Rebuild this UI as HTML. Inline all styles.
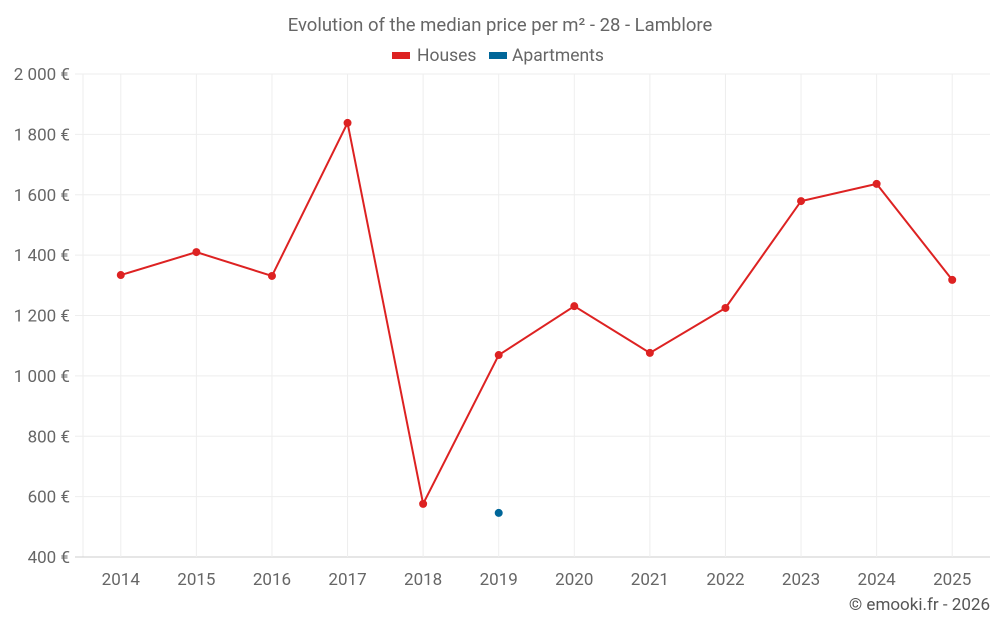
<!DOCTYPE html>
<html><head><meta charset="utf-8">
<style>
html,body{margin:0;padding:0;background:#fff;}
svg{display:block;font-family:"Roboto","Liberation Sans",sans-serif;}
</style></head>
<body>
<svg id="chart" width="1000" height="625" viewBox="0 0 1000 625">
  <text x="500" y="31" text-anchor="middle" font-size="18.5" fill="#666">Evolution of the median price per m² - 28 - Lamblore</text>
  <g>
    <g>
      <rect x="392" y="52" width="18" height="7" fill="#dd2222"></rect>
      <text x="417" y="61" font-size="17.5" fill="#666">Houses</text>
    </g>
    <g>
      <rect x="489" y="52" width="18" height="7" fill="#006699"></rect>
      <text x="512" y="61" font-size="17.5" fill="#666">Apartments</text>
    </g>
  </g>
  <g id="grid"></g>
  <g id="axes"></g>
  <g id="series"></g>
  <text x="990" y="610" text-anchor="end" font-size="17" fill="#555">© emooki.fr - 2026</text>
</svg>
<script>
const categories = ["2014","2015","2016","2017","2018","2019","2020","2021","2022","2023","2024","2025"];
const housesValues = [1334,1410,1331,1838,576,1069,1231,1076,1225,1579,1636,1318];
const apartmentsValues = [null,null,null,null,null,546,null,null,null,null,null,null];
const yTicks = [400,600,800,1000,1200,1400,1600,1800,2000];
const yTickLabels = ["400 €","600 €","800 €","1 000 €","1 200 €","1 400 €","1 600 €","1 800 €","2 000 €"];

const NS = "http://www.w3.org/2000/svg";
const plotLeft = 83, plotRight = 990, plotTop = 74, plotBottom = 557;
const yMin = 400, yMax = 2000;
const band = (plotRight - plotLeft) / categories.length;
function xPos(i){ return plotLeft + band * (i + 0.5); }
function yPos(v){ return plotBottom - (v - yMin) / (yMax - yMin) * (plotBottom - plotTop); }
function mk(tag, attrs, parent){ const e = document.createElementNS(NS, tag); for (const k in attrs) e.setAttribute(k, attrs[k]); parent.appendChild(e); return e; }

const gridG = document.getElementById('grid');
const axesG = document.getElementById('axes');
const seriesG = document.getElementById('series');

const leftLine = mk('line', {x1: plotLeft, x2: plotLeft, y1: plotTop, y2: plotBottom, stroke: '#eee', 'stroke-width': 1}, gridG);



yTicks.forEach((t, i) => {
  const y = yPos(t);
  const l = mk('line', {x1: plotLeft - 8, x2: plotRight, y1: y, y2: y, stroke: i === 0 ? '#ccc' : '#eee', 'stroke-width': 1}, gridG);
  
  
  const tx = mk('text', {x: 70, y: y + 6, 'text-anchor': 'end', 'font-size': 17, fill: '#666'}, axesG);
  tx.textContent = yTickLabels[i];
  
  
});
categories.forEach((c, i) => {
  const x = xPos(i);
  const l = mk('line', {x1: x, x2: x, y1: plotTop, y2: plotBottom, stroke: '#eee', 'stroke-width': 1}, gridG);
  
  
  const tx = mk('text', {x: x, y: 585, 'text-anchor': 'middle', 'font-size': 17, fill: '#666'}, axesG);
  tx.textContent = c;
  
  
});

let pathD = '';
housesValues.forEach((v, i) => { if (v != null) pathD += (pathD ? 'L' : 'M') + xPos(i) + ',' + yPos(v); });
const housesLine = mk('path', {d: pathD, fill: 'none', stroke: '#dd2222', 'stroke-width': 2}, seriesG);


housesValues.forEach((v, i) => {
  if (v == null) return;
  const c = mk('circle', {cx: xPos(i), cy: yPos(v), r: 4, fill: '#dd2222'}, seriesG);
  
  
});
apartmentsValues.forEach((v, i) => {
  if (v == null) return;
  const c = mk('circle', {cx: xPos(i), cy: yPos(v), r: 4, fill: '#006699'}, seriesG);
  
  
});
</script>
</body></html>
